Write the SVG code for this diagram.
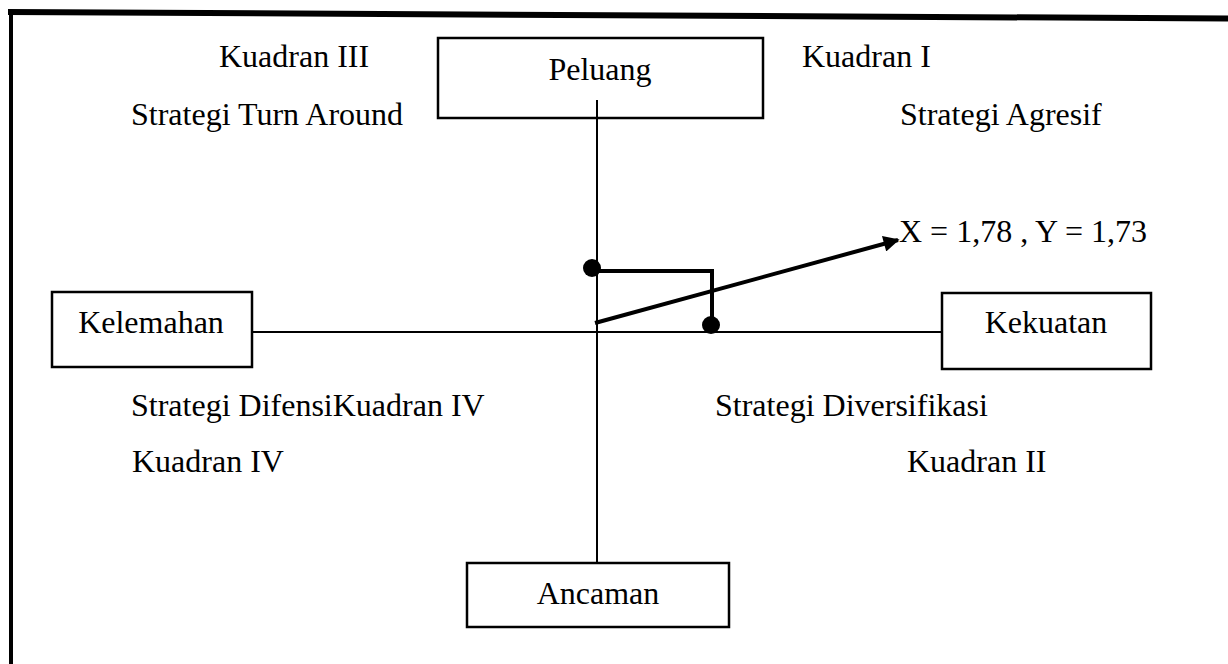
<svg xmlns="http://www.w3.org/2000/svg" width="1228" height="664" viewBox="0 0 1228 664">
<defs>
<style>
.t{font-family:"Liberation Serif","Times New Roman",serif;font-size:32px;fill:#000}
.m{text-anchor:middle}
.box{fill:#fff;stroke:#000;stroke-width:2.5}
.axis{stroke:#000;stroke-width:2;fill:none}
.thick{stroke:#000;stroke-width:4;fill:none}
</style>
<marker id="ah" viewBox="0 0 10 10" refX="9" refY="5" markerWidth="4.5" markerHeight="4" orient="auto" markerUnits="strokeWidth">
<path d="M0,0 L10,5 L0,10 Z" fill="#000"/>
</marker>
</defs>
<rect width="1228" height="664" fill="#fff"/>
<g id="frame">
<line x1="8" y1="12" x2="1228" y2="18.5" stroke="#000" stroke-width="6"/>
<line x1="11" y1="10" x2="11" y2="664" stroke="#000" stroke-width="4"/>
</g>
<g id="peluang">
<rect class="box" x="438" y="38" width="325" height="80"/>
<text class="t m" x="600" y="80">Peluang</text>
</g>
<g id="kelemahan">
<rect class="box" x="52" y="292" width="200" height="75"/>
<text class="t m" x="151" y="333">Kelemahan</text>
</g>
<g id="kekuatan">
<rect class="box" x="942" y="293" width="209" height="76"/>
<text class="t m" x="1046" y="333">Kekuatan</text>
</g>
<g id="ancaman">
<rect class="box" x="467" y="563" width="262" height="64"/>
<text class="t m" x="598" y="604">Ancaman</text>
</g>
<g id="connectors">
<line class="axis" x1="597" y1="100" x2="597" y2="563"/>
<line class="axis" x1="252" y1="332" x2="942" y2="332" stroke-width="1.5"/>
<polyline class="thick" points="592,271 712,271 712,325"/>
<line class="thick" x1="595" y1="323" x2="898" y2="240" marker-end="url(#ah)"/>
<circle cx="592" cy="268" r="9" fill="#000"/>
<circle cx="711" cy="325" r="9" fill="#000"/>
</g>
<g id="labels">
<text class="t" x="219" y="67">Kuadran III</text>
<text class="t" x="131" y="125">Strategi Turn Around</text>
<text class="t" x="802" y="67">Kuadran I</text>
<text class="t" x="900" y="125">Strategi Agresif</text>
<text class="t" x="899" y="242">X = 1,78 , Y = 1,73</text>
<text class="t" x="131" y="416">Strategi DifensiKuadran IV</text>
<text class="t" x="132" y="472">Kuadran IV</text>
<text class="t" x="715" y="416">Strategi Diversifikasi</text>
<text class="t" x="907" y="472">Kuadran II</text>
</g>
</svg>
